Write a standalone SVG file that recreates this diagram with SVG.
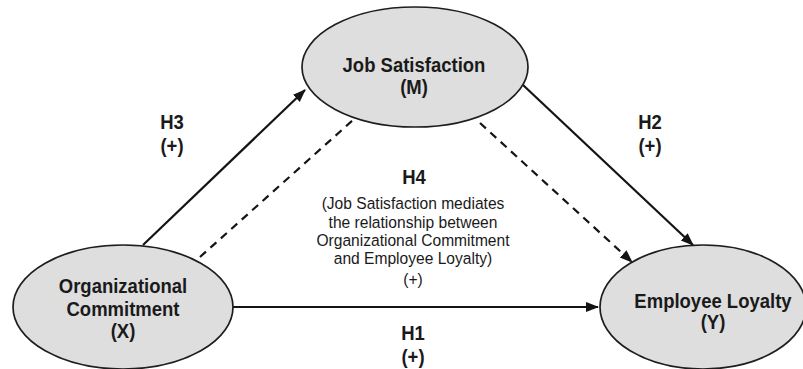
<svg xmlns="http://www.w3.org/2000/svg" width="803" height="369" viewBox="0 0 803 369">
<style>
.node{fill:#dedede;stroke:#1e1e1e;stroke-width:1.7}
.t{font-family:"Liberation Sans",Arial,sans-serif;fill:#1a1a1a;text-anchor:middle;transform-box:fill-box;transform-origin:center;transform:scaleY(1.1)}
.b{font-weight:bold;font-size:18.5px}
.r{font-size:15.6px}
.c{stroke:#141414;stroke-width:2.2;fill:none}
.d{stroke-dasharray:8 6}
</style>
<defs>
<marker id="ah" markerUnits="userSpaceOnUse" markerWidth="14" markerHeight="12" refX="12" refY="5" orient="auto">
<path d="M0,0 L13,5 L0,10 z" fill="#141414"/>
</marker>
</defs>
<rect width="803" height="369" fill="#ffffff"/>
<g id="connectors">
<line class="c" x1="143" y1="245" x2="305" y2="90" marker-end="url(#ah)"/>
<line class="c" x1="523" y1="85" x2="693" y2="245" marker-end="url(#ah)"/>
<line class="c" x1="233" y1="307" x2="598" y2="307" marker-end="url(#ah)"/>
<line class="c d" x1="200" y1="257" x2="353" y2="120"/>
<line class="c d" x1="480" y1="123" x2="632" y2="262" marker-end="url(#ah)"/>
</g>
<g id="node-job-satisfaction">
<ellipse class="node" cx="415" cy="67" rx="113" ry="60"/>
<text class="t b" x="414" y="71">Job Satisfaction</text>
<text class="t b" x="414" y="93">(M)</text>
</g>
<g id="node-organizational-commitment">
<ellipse class="node" cx="123" cy="307" rx="110" ry="62"/>
<text class="t b" x="123" y="292">Organizational</text>
<text class="t b" x="123" y="315">Commitment</text>
<text class="t b" x="123" y="337">(X)</text>
</g>
<g id="node-employee-loyalty">
<ellipse class="node" cx="703" cy="307" rx="103" ry="62"/>
<text class="t b" x="713" y="307">Employee Loyalty</text>
<text class="t b" x="713" y="328">(Y)</text>
</g>
<g id="labels">
<text class="t b" x="172" y="128">H3</text>
<text class="t b" x="172" y="152">(+)</text>
<text class="t b" x="650" y="128">H2</text>
<text class="t b" x="650" y="152">(+)</text>
<text class="t b" x="413" y="339">H1</text>
<text class="t b" x="413" y="363">(+)</text>
<text class="t b" x="414" y="183">H4</text>
<text class="t r" x="413" y="208">(Job Satisfaction mediates</text>
<text class="t r" x="413" y="227">the relationship between</text>
<text class="t r" x="413" y="245">Organizational Commitment</text>
<text class="t r" x="413" y="263">and Employee Loyalty)</text>
<text class="t r" x="413" y="284">(+)</text>
</g>
</svg>
